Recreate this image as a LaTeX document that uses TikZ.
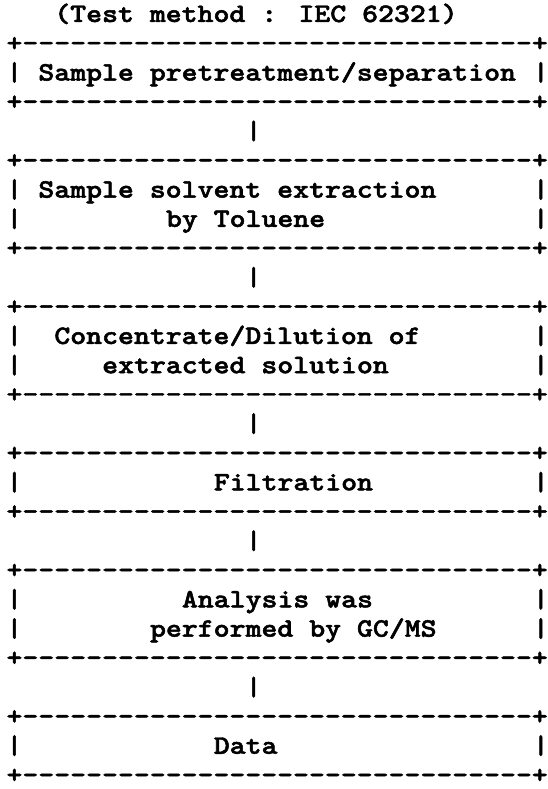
\documentclass[tikz,border=0pt]{standalone}
\usepackage{fontspec}
\newfontfamily\asciifont{lmmonolt10-bold.otf}[FakeBold=1.8]
\ExplSyntaxOn
\NewDocumentCommand\HBar{}{+\prg_replicate:nn{32}{\kern0pt-}\kern0pt+}
\ExplSyntaxOff
\newcommand\Ln[1]{\scalebox{1.14}[1]{#1}}
\begin{document}
\begin{tikzpicture}[x=15.95pt,y=-29.27pt,
  asc/.style={anchor=base west,inner sep=0pt,outer sep=0pt,text=black,
    font={\asciifont\fontsize{26.6pt}{29.3pt}\selectfont}}]
\useasboundingbox (0pt,0pt) rectangle (548pt,-789pt);
\begin{scope}[shift={(6.5pt,-22pt)}]
% title
\node[asc] (title) at (3,0) {\Ln{(Test method : IEC 62321)}};
% box 1
\node[asc] (b1t) at (0,1) {\Ln{\HBar}};
\node[asc] (b1l) at (0,2) {\Ln{|}};
\node[asc] (b1x) at (2,2) {\Ln{Sample pretreatment/separation}};
\node[asc] (b1r) at (33,2) {\Ln{|}};
\node[asc] (b1b) at (0,3) {\Ln{\HBar}};
\node[asc] (c1) at (15,4) {\Ln{|}};
% box 2
\node[asc] (b2t) at (0,5) {\Ln{\HBar}};
\node[asc] (b2la) at (0,6) {\Ln{|}};
\node[asc] (b2xa) at (2,6) {\Ln{Sample solvent extraction}};
\node[asc] (b2ra) at (33,6) {\Ln{|}};
\node[asc] (b2lb) at (0,7) {\Ln{|}};
\node[asc] (b2xb) at (10,7) {\Ln{by Toluene}};
\node[asc] (b2rb) at (33,7) {\Ln{|}};
\node[asc] (b2b) at (0,8) {\Ln{\HBar}};
\node[asc] (c2) at (15,9) {\Ln{|}};
% box 3
\node[asc] (b3t) at (0,10) {\Ln{\HBar}};
\node[asc] (b3la) at (0,11) {\Ln{|}};
\node[asc] (b3xa) at (3,11) {\Ln{Concentrate/Dilution of}};
\node[asc] (b3ra) at (33,11) {\Ln{|}};
\node[asc] (b3lb) at (0,12) {\Ln{|}};
\node[asc] (b3xb) at (6,12) {\Ln{extracted solution}};
\node[asc] (b3rb) at (33,12) {\Ln{|}};
\node[asc] (b3b) at (0,13) {\Ln{\HBar}};
\node[asc] (c3) at (15,14) {\Ln{|}};
% box 4
\node[asc] (b4t) at (0,15) {\Ln{\HBar}};
\node[asc] (b4l) at (0,16) {\Ln{|}};
\node[asc] (b4x) at (13,16) {\Ln{Filtration}};
\node[asc] (b4r) at (33,16) {\Ln{|}};
\node[asc] (b4b) at (0,17) {\Ln{\HBar}};
\node[asc] (c4) at (15,18) {\Ln{|}};
% box 5
\node[asc] (b5t) at (0,19) {\Ln{\HBar}};
\node[asc] (b5la) at (0,20) {\Ln{|}};
\node[asc] (b5xa) at (11,20) {\Ln{Analysis was}};
\node[asc] (b5ra) at (33,20) {\Ln{|}};
\node[asc] (b5lb) at (0,21) {\Ln{|}};
\node[asc] (b5xb) at (9,21) {\Ln{performed by GC/MS}};
\node[asc] (b5rb) at (33,21) {\Ln{|}};
\node[asc] (b5b) at (0,22) {\Ln{\HBar}};
\node[asc] (c5) at (15,23) {\Ln{|}};
% box 6
\node[asc] (b6t) at (0,24) {\Ln{\HBar}};
\node[asc] (b6l) at (0,25) {\Ln{|}};
\node[asc] (b6x) at (13,25) {\Ln{Data}};
\node[asc] (b6r) at (33,25) {\Ln{|}};
\node[asc] (b6b) at (0,26) {\Ln{\HBar}};
\end{scope}
\end{tikzpicture}
\end{document}
